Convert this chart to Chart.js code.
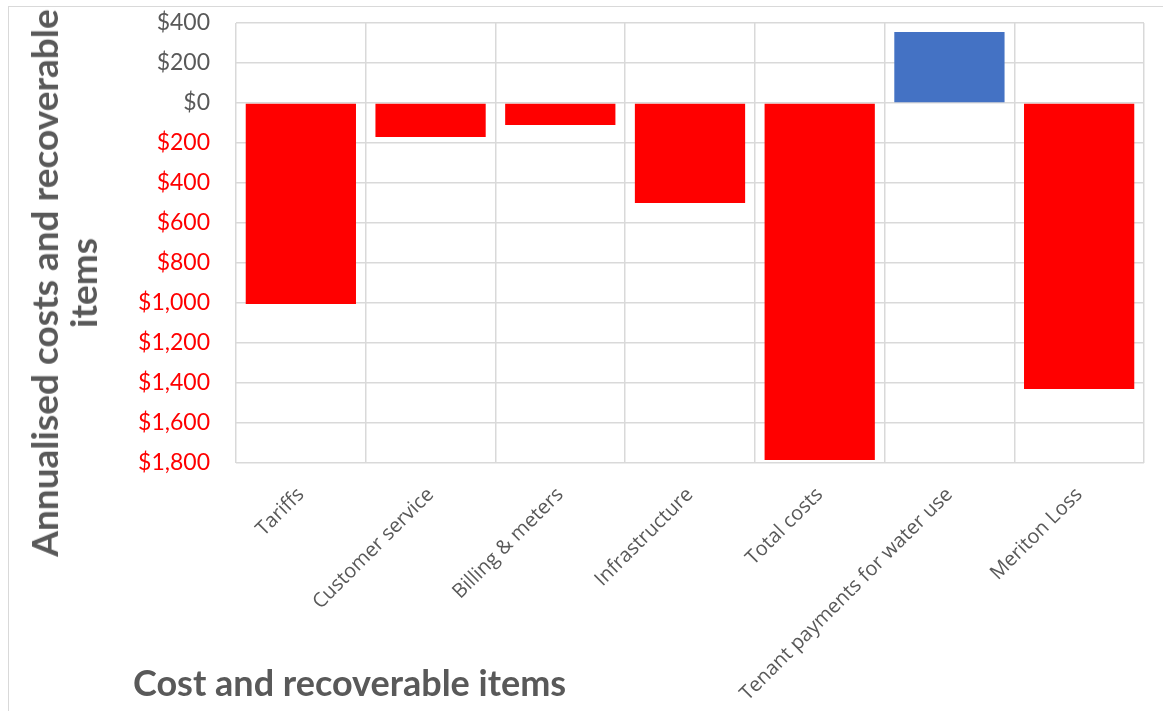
<!DOCTYPE html>
<html>
<head>
<meta charset="utf-8">
<script src="https://cdn.jsdelivr.net/npm/chart.js@4.4.1/dist/chart.umd.min.js"></script>
<style>
  body { margin: 0; background: #fff; }
  #wrap { position: relative; width: 1163px; height: 711px; overflow: hidden; }
  #frame { position: absolute; left: 8px; top: 6px; width: 1200px; height: 800px; border: 1.5px solid #d9d9d9; }
  .axis-title { position: absolute; font-family: Lato, sans-serif; font-weight: bold; color: #595959; white-space: nowrap; }
  #xTitle { left: 133px; top: 660px; font-size: 36px; }
  #yTitle {
    left: 62.5px; top: 283px; font-size: 37px; line-height: 39px; text-align: center;
    transform: translate(-50%, -50%) rotate(-90deg);
  }
  canvas { position: absolute; left: 0; top: 0; }
</style>
</head>
<body>
<div id="wrap">
  <div id="frame"></div>
  <canvas id="chart" width="1163" height="711"></canvas>
  <div id="yTitle" class="axis-title">Annualised costs and recoverable<br>items</div>
  <div id="xTitle" class="axis-title">Cost and recoverable items</div>
</div>
<script>
const categories = ['Tariffs', 'Customer service', 'Billing & meters', 'Infrastructure',
                    'Total costs', 'Tenant payments for water use', 'Meriton Loss'];
const amounts = [-1005, -170, -110, -500, -1785, 355, -1430];
const yMin = -1800;
const yMax = 400;
const yStep = 200;

const gray = '#595959';
const red = '#FF0000';
const gridColor = '#d9d9d9';

const barColors = amounts.map(v => v < 0 ? red : '#4472C4');

new Chart(document.getElementById('chart'), {
    type: 'bar',
    data: {
        labels: categories,
        datasets: [{
            data: amounts,
            backgroundColor: barColors,
            borderWidth: 0,
            categoryPercentage: 0.85,
            barPercentage: 1.0
        }]
    },
    options: {
        responsive: false,
        animation: false,
        layout: { padding: { top: 23, right: 19, left: 0, bottom: 0 } },
        plugins: {
            legend: { display: false },
            tooltip: { enabled: false }
        },
        scales: {
            y: {
                min: yMin,
                max: yMax,
                ticks: {
                    stepSize: yStep,
                    padding: 0,
                    font: { family: 'Lato', size: 23 },
                    color: ctx => ctx.tick.value < 0 ? red : gray,
                    // negatives are shown in red without a minus sign
                    callback: v => '$' + Math.abs(v).toLocaleString('en-US')
                },
                // invisible tick marks keep the labels clear of the plot
                grid: { color: gridColor, lineWidth: 1.5, tickLength: 26, tickColor: 'transparent' },
                border: { display: false },
                afterFit: scale => { scale.width = 236; }
            },
            x: {
                ticks: {
                    maxRotation: 45,
                    minRotation: 45,
                    padding: 20,
                    font: { family: 'Open Sans', size: 20 },
                    color: gray
                },
                grid: { color: gridColor, lineWidth: 1.5, drawTicks: false, offset: true },
                border: { display: false },
                afterFit: scale => { scale.height = 248; }
            }
        }
    }
});
</script>
</body>
</html>
